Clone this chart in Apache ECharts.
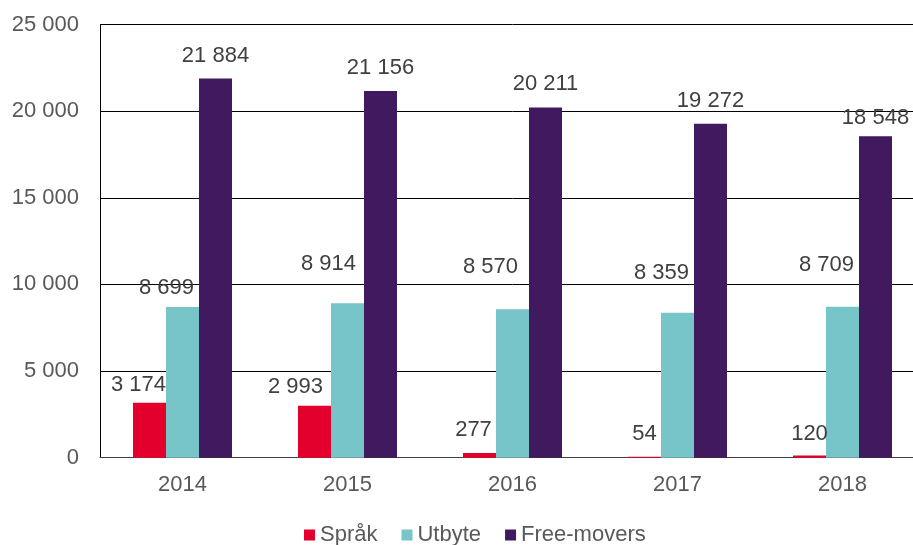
<!DOCTYPE html>
<html>
<head>
<meta charset="utf-8">
<script src="https://cdn.jsdelivr.net/npm/echarts@6/dist/echarts.min.js"></script>
<style>
  html, body { margin: 0; padding: 0; background: #fff; overflow: hidden; }
  /* the plot in the source runs past the right edge of the picture */
  #chart { width: 925px; height: 545px; }
</style>
</head>
<body>
<div id="chart"></div>
<script>
// data
var years = ["2014", "2015", "2016", "2017", "2018"];
var sprak = [3174, 2993, 277, 54, 120];
var utbyte = [8699, 8914, 8570, 8359, 8709];
var freeMovers = [21884, 21156, 20211, 19272, 18548];
var yTicks = [0, 5000, 10000, 15000, 20000, 25000];

// label nudges (the source had hand-placed labels)
var nudgeSprak = [[-11, -3], [-19, -4], [-6, -8], [0, -8], [0, -7]];
var nudgeUtbyte = [[-16, -4], [-19, -24], [-22, -27], [-16, -25], [-16, -27]];
var nudgeFree = [[0, -8], [0, -8], [0, -9], [0, -8], [0, -3]];

var FONT = "Liberation Sans, Arial, sans-serif";
var FS = 22;

function fmt(v) {
    return String(v).replace(/\B(?=(\d{3})+(?!\d))/g, " ");
}

function withLabels(values, nudges) {
    return values.map(function (v, i) {
        return { value: v, label: { offset: nudges[i] } };
    });
}

function barSeries(name, color, values, nudges) {
    return {
        name: name,
        type: "bar",
        barGap: 0,
        barCategoryGap: "40%",
        itemStyle: { color: color },
        label: {
            show: true,
            position: "top",
            distance: 4,
            color: "#404040",
            fontSize: FS,
            fontFamily: FONT,
            formatter: function (p) { return fmt(p.value); }
        },
        data: withLabels(values, nudges)
    };
}

var myChart = echarts.init(document.getElementById("chart"));

var option = {
    animation: false,
    grid: {
        left: 100,
        right: 0,
        top: 24.5,
        bottom: 87.3
    },
    legend: {
        top: 524,
        left: 304,
        padding: 0,
        icon: "rect",
        itemWidth: 11,
        itemHeight: 11,
        itemGap: 24,
        textStyle: { color: "#595959", fontSize: FS, fontFamily: FONT },
        data: ["Språk", "Utbyte", "Free-movers"]
    },
    xAxis: {
        type: "category",
        data: years,
        axisTick: { show: false },
        axisLine: { lineStyle: { color: "#404040", width: 1 } },
        axisLabel: { color: "#595959", fontSize: FS, fontFamily: FONT, margin: 16 }
    },
    yAxis: {
        type: "value",
        min: yTicks[0],
        max: yTicks[yTicks.length - 1],
        interval: yTicks[1] - yTicks[0],
        axisLine: { show: true, lineStyle: { color: "#000", width: 1 } },
        axisTick: { show: false },
        splitLine: { lineStyle: { color: "#000", width: 1 } },
        axisLabel: {
            color: "#595959",
            fontSize: FS,
            fontFamily: FONT,
            margin: 21,
            formatter: fmt
        }
    },
    series: [
        barSeries("Språk", "#E3002C", sprak, nudgeSprak),
        barSeries("Utbyte", "#77C5C8", utbyte, nudgeUtbyte),
        barSeries("Free-movers", "#41195E", freeMovers, nudgeFree)
    ]
};

myChart.setOption(option);
window.addEventListener("resize", function () {
    myChart.resize();
});
</script>
</body>
</html>
